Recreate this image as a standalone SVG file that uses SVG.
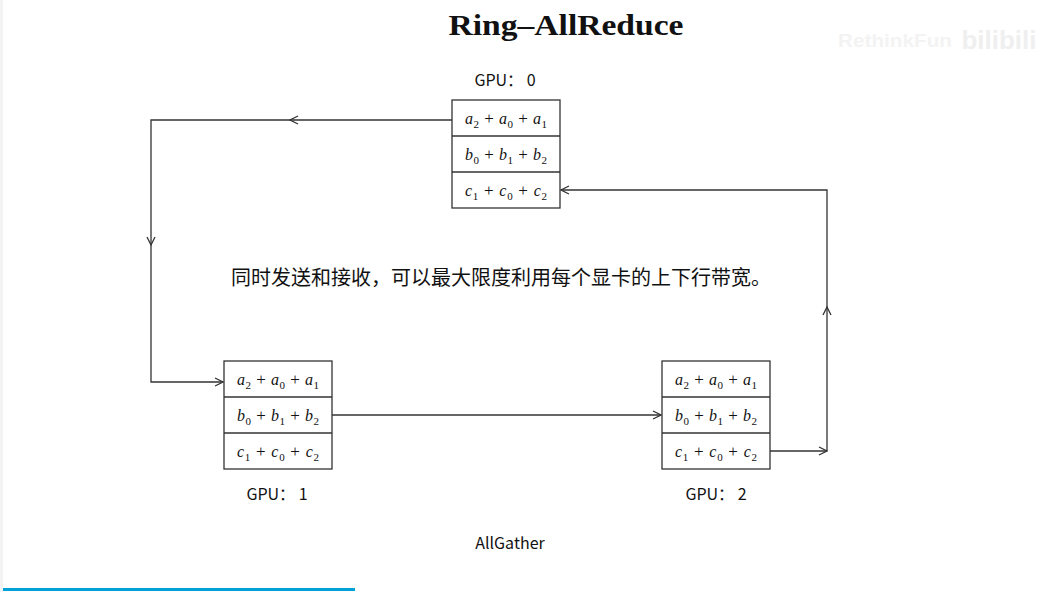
<svg xmlns="http://www.w3.org/2000/svg" width="1039" height="592" viewBox="0 0 1039 592">
<style>
.box{fill:#fff;stroke:#333;stroke-width:1.3}
.sep{stroke:#333;stroke-width:1.3}
.m{font-family:"Liberation Serif",serif;font-style:italic;font-size:16px;fill:#111;text-anchor:middle}
.m .s{font-size:11px;font-style:normal}
.m .op{font-style:normal;font-size:17px}
.lbl{font-family:"Noto Sans CJK SC","Noto Sans",sans-serif;font-size:16px;fill:#111;text-anchor:middle}
.ln{fill:none;stroke:#333;stroke-width:1.3}
</style>
<defs>
<marker id="ah" viewBox="0 0 10 10" refX="9" refY="5" markerWidth="10" markerHeight="10" markerUnits="userSpaceOnUse" orient="auto">
<path d="M1,1 L9,5 L1,9" fill="none" stroke="#333" stroke-width="1.3"/>
</marker>
<g id="rows">
<text class="m" x="54" y="24" textLength="82" lengthAdjust="spacing">a<tspan class="s" dy="4">2</tspan><tspan class="op" dy="-4"> + </tspan>a<tspan class="s" dy="4">0</tspan><tspan class="op" dy="-4"> + </tspan>a<tspan class="s" dy="4">1</tspan></text>
<text class="m" x="54" y="60" textLength="82" lengthAdjust="spacing">b<tspan class="s" dy="4">0</tspan><tspan class="op" dy="-4"> + </tspan>b<tspan class="s" dy="4">1</tspan><tspan class="op" dy="-4"> + </tspan>b<tspan class="s" dy="4">2</tspan></text>
<text class="m" x="54" y="96" textLength="82" lengthAdjust="spacing">c<tspan class="s" dy="4">1</tspan><tspan class="op" dy="-4"> + </tspan>c<tspan class="s" dy="4">0</tspan><tspan class="op" dy="-4"> + </tspan>c<tspan class="s" dy="4">2</tspan></text>
</g>
</defs>
<rect width="1039" height="592" fill="#fff"/>
<rect x="0" y="0" width="3" height="592" fill="#f3f3f3"/>
<text x="566" y="35" font-family="Liberation Serif,serif" font-weight="bold" font-size="30" text-anchor="middle" fill="#111" textLength="235" lengthAdjust="spacingAndGlyphs">Ring–AllReduce</text>
<text x="895" y="47" font-family="Liberation Sans,sans-serif" font-weight="bold" font-size="19" fill="#f3f3f3" text-anchor="middle" textLength="114" lengthAdjust="spacingAndGlyphs">RethinkFun</text>
<text x="999" y="49" font-family="Liberation Sans,sans-serif" font-weight="bold" font-size="26" fill="#efefef" text-anchor="middle">bilibili</text>

<g id="gpu0">
<rect class="box" x="452" y="100" width="108" height="108"/>
<line class="sep" x1="452" y1="136" x2="560" y2="136"/>
<line class="sep" x1="452" y1="172" x2="560" y2="172"/>
<use href="#rows" x="452" y="100"/>
<text class="lbl" x="505" y="86">GPU： 0</text>
</g>
<g id="gpu1">
<rect class="box" x="224" y="361" width="108" height="108"/>
<line class="sep" x1="224" y1="397" x2="332" y2="397"/>
<line class="sep" x1="224" y1="433" x2="332" y2="433"/>
<use href="#rows" x="224" y="361"/>
<text class="lbl" x="277" y="500">GPU： 1</text>
</g>
<g id="gpu2">
<rect class="box" x="662" y="361" width="108" height="108"/>
<line class="sep" x1="662" y1="397" x2="770" y2="397"/>
<line class="sep" x1="662" y1="433" x2="770" y2="433"/>
<use href="#rows" x="662" y="361"/>
<text class="lbl" x="716" y="500">GPU： 2</text>
</g>

<g id="connectors">
<path class="ln" d="M452,120 L290,120" marker-end="url(#ah)"/>
<path class="ln" d="M290,120 L151,120 L151,245" marker-end="url(#ah)"/>
<path class="ln" d="M151,245 L151,382 L223,382" marker-end="url(#ah)"/>
<path class="ln" d="M332,415 L661,415" marker-end="url(#ah)"/>
<path class="ln" d="M770,451 L827,451" marker-end="url(#ah)"/>
<path class="ln" d="M827,451 L827,307" marker-end="url(#ah)"/>
<path class="ln" d="M827,307 L827,190 L561,190" marker-end="url(#ah)"/>
</g>

<text x="501" y="285" font-family="Noto Sans CJK SC,sans-serif" font-size="20" text-anchor="middle" fill="#111">同时发送和接收，可以最大限度利用每个显卡的上下行带宽。</text>
<text x="510" y="549" font-family="Noto Sans CJK SC,Noto Sans,sans-serif" font-size="16" text-anchor="middle" fill="#111">AllGather</text>
<rect x="3" y="588" width="352" height="3" fill="#00a1d6"/>
</svg>
